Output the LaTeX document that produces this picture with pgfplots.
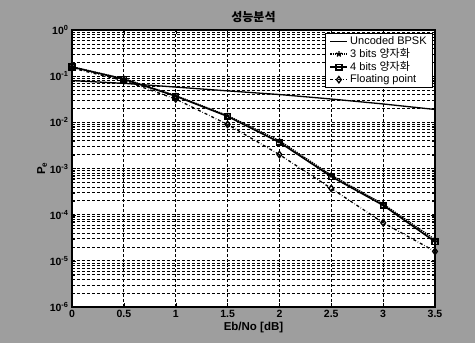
\documentclass[border=0pt]{standalone}
\usepackage{pgfplots}
\pgfplotsset{compat=1.18}
\usepackage{fontspec}
\setmainfont{Liberation Sans}
\newfontfamily\kr{Noto Sans CJK KR}
\begin{document}
\begin{tikzpicture}
\fill[black!38] (0,0) rectangle (475pt,343pt);
\begin{axis}[
  at={(72pt,36pt)}, anchor=south west, scale only axis,
  width=363pt, height=277pt,
  ymode=log, xmin=0, xmax=3.5, ymin=1e-6, ymax=1,
  xtick={0,0.5,1,1.5,2,2.5,3,3.5},
  xticklabels={0,0.5,1,1.5,2,2.5,3,3.5},
  ytick={1e-6,1e-5,1e-4,1e-3,1e-2,1e-1,1},
  yticklabels={10\textsuperscript{-6},10\textsuperscript{-5},10\textsuperscript{-4},10\textsuperscript{-3},10\textsuperscript{-2},10\textsuperscript{-1},10\textsuperscript{0}},
  tick label style={font=\bfseries\fontsize{10.5}{11}\selectfont},
  axis background/.style={fill=white},
  axis line style={black, line width=1.2pt},
  grid=both,
  major grid style={densely dashed, black, line width=0.8pt},
  minor grid style={densely dashed, black, line width=0.7pt},
  tick style={black},
  title={\kr\bfseries 성능분석},
  title style={font=\fontsize{12}{13}\selectfont, yshift=-2pt},
  xlabel={\bfseries Eb/No [dB]},
  xlabel style={font=\fontsize{11.5}{12}\selectfont, yshift=3pt},
  ylabel={\bfseries P\textsubscript{e}},
  ylabel style={font=\fontsize{11.5}{12}\selectfont, yshift=-4pt},
  legend style={draw=black, line width=1pt, fill=white, font=\fontsize{11}{12}\selectfont,
    inner xsep=4pt, inner ysep=1.5pt, row sep=-1.5pt, legend cell align=left,
    at={(0.995,0.99)}, anchor=north east,
    /tikz/every even column/.append style={column sep=3pt}},
]
\addplot[black, line width=1.3pt] coordinates {(0,0.08)(0.5,0.07)(1,0.058)(1.5,0.048)(2,0.040)(2.5,0.032)(3,0.025)(3.5,0.019)};
\addlegendentry{Uncoded BPSK}
\addplot[black, densely dotted, line width=1.3pt, mark=star, mark options={solid, scale=1.5}] coordinates {(0,0.16)(0.5,0.088)(1,0.038)(1.5,0.014)(2,0.0040)(2.5,7.2e-4)(3,1.7e-4)(3.5,2.9e-5)};
\addlegendentry{3 bits {\kr 양자화}}
\addplot[black, line width=1.6pt, mark=square, mark options={solid, scale=1.4}] coordinates {(0,0.158)(0.5,0.086)(1,0.037)(1.5,0.0135)(2,0.0037)(2.5,6.7e-4)(3,1.6e-4)(3.5,2.6e-5)};
\addlegendentry{4 bits {\kr 양자화}}
\addplot[black, dashdotted, line width=1.3pt, mark=diamond, mark options={solid, scale=1.6}] coordinates {(0,0.15)(0.5,0.08)(1,0.032)(1.5,0.009)(2,0.002)(2.5,3.7e-4)(3,6.7e-5)(3.5,1.6e-5)};
\addlegendentry{Floating point}
\end{axis}
\end{tikzpicture}
\end{document}
